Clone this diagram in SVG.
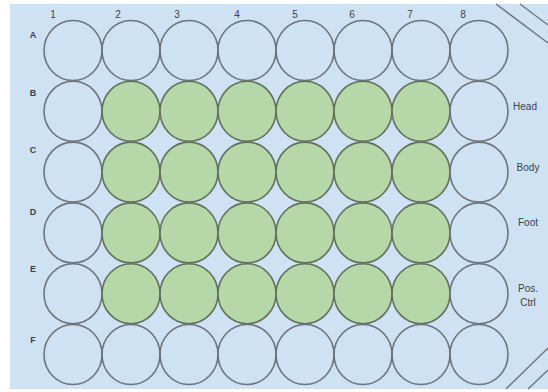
<svg xmlns="http://www.w3.org/2000/svg" width="548" height="392" viewBox="0 0 548 392">
<style>
.well{fill:none;stroke:#6e747c;stroke-width:1.6}
.on{fill:#b6d7a8;stroke:#62705c;stroke-width:1.6}
.lbl{font-family:"Liberation Sans",Arial,sans-serif;font-size:10px;fill:#3c4048;text-anchor:middle}
.rl{font-family:"Liberation Sans",Arial,sans-serif;font-size:9px;font-weight:bold;fill:#3c4048;text-anchor:middle}
.edge{stroke:#6e747c;stroke-width:1.4;fill:none}
</style>
<rect width="548" height="392" fill="#ffffff"/>
<rect x="10" y="4" width="538" height="385" fill="#cfe2f3"/>
<g id="corners">
<line class="edge" x1="496" y1="4" x2="548" y2="43"/>
<line class="edge" x1="520" y1="4" x2="548" y2="25"/>
<line class="edge" x1="506" y1="389" x2="548" y2="348"/>
<line class="edge" x1="528" y1="389" x2="548" y2="370"/>
</g>
<g id="col-labels">
<text class="lbl" x="53" y="18">1</text>
<text class="lbl" x="118" y="18">2</text>
<text class="lbl" x="177" y="18">3</text>
<text class="lbl" x="237" y="18">4</text>
<text class="lbl" x="295" y="18">5</text>
<text class="lbl" x="352" y="18">6</text>
<text class="lbl" x="410" y="18">7</text>
<text class="lbl" x="463" y="18">8</text>
</g>
<g id="row-labels">
<text class="rl" x="33" y="38">A</text>
<text class="rl" x="33" y="96">B</text>
<text class="rl" x="33" y="153">C</text>
<text class="rl" x="33" y="215">D</text>
<text class="rl" x="33" y="272">E</text>
<text class="rl" x="33" y="343">F</text>
</g>
<g id="row-A">
<ellipse class="well" cx="73" cy="50.5" rx="29" ry="30"/>
<ellipse class="well" cx="131" cy="50.5" rx="29" ry="30"/>
<ellipse class="well" cx="189" cy="50.5" rx="29" ry="30"/>
<ellipse class="well" cx="247" cy="50.5" rx="29" ry="30"/>
<ellipse class="well" cx="305" cy="50.5" rx="29" ry="30"/>
<ellipse class="well" cx="363" cy="50.5" rx="29" ry="30"/>
<ellipse class="well" cx="421" cy="50.5" rx="29" ry="30"/>
<ellipse class="well" cx="479" cy="50.5" rx="29" ry="30"/>
</g>
<g id="row-B">
<ellipse class="well" cx="73" cy="111.3" rx="29" ry="30"/>
<ellipse class="on" cx="131" cy="111.3" rx="29" ry="30"/>
<ellipse class="on" cx="189" cy="111.3" rx="29" ry="30"/>
<ellipse class="on" cx="247" cy="111.3" rx="29" ry="30"/>
<ellipse class="on" cx="305" cy="111.3" rx="29" ry="30"/>
<ellipse class="on" cx="363" cy="111.3" rx="29" ry="30"/>
<ellipse class="on" cx="421" cy="111.3" rx="29" ry="30"/>
<ellipse class="well" cx="479" cy="111.3" rx="29" ry="30"/>
<text class="lbl" x="525" y="110">Head</text>
</g>
<g id="row-C">
<ellipse class="well" cx="73" cy="172.1" rx="29" ry="30"/>
<ellipse class="on" cx="131" cy="172.1" rx="29" ry="30"/>
<ellipse class="on" cx="189" cy="172.1" rx="29" ry="30"/>
<ellipse class="on" cx="247" cy="172.1" rx="29" ry="30"/>
<ellipse class="on" cx="305" cy="172.1" rx="29" ry="30"/>
<ellipse class="on" cx="363" cy="172.1" rx="29" ry="30"/>
<ellipse class="on" cx="421" cy="172.1" rx="29" ry="30"/>
<ellipse class="well" cx="479" cy="172.1" rx="29" ry="30"/>
<text class="lbl" x="528" y="171">Body</text>
</g>
<g id="row-D">
<ellipse class="well" cx="73" cy="232.9" rx="29" ry="30"/>
<ellipse class="on" cx="131" cy="232.9" rx="29" ry="30"/>
<ellipse class="on" cx="189" cy="232.9" rx="29" ry="30"/>
<ellipse class="on" cx="247" cy="232.9" rx="29" ry="30"/>
<ellipse class="on" cx="305" cy="232.9" rx="29" ry="30"/>
<ellipse class="on" cx="363" cy="232.9" rx="29" ry="30"/>
<ellipse class="on" cx="421" cy="232.9" rx="29" ry="30"/>
<ellipse class="well" cx="479" cy="232.9" rx="29" ry="30"/>
<text class="lbl" x="528" y="226">Foot</text>
</g>
<g id="row-E">
<ellipse class="well" cx="73" cy="293.7" rx="29" ry="30"/>
<ellipse class="on" cx="131" cy="293.7" rx="29" ry="30"/>
<ellipse class="on" cx="189" cy="293.7" rx="29" ry="30"/>
<ellipse class="on" cx="247" cy="293.7" rx="29" ry="30"/>
<ellipse class="on" cx="305" cy="293.7" rx="29" ry="30"/>
<ellipse class="on" cx="363" cy="293.7" rx="29" ry="30"/>
<ellipse class="on" cx="421" cy="293.7" rx="29" ry="30"/>
<ellipse class="well" cx="479" cy="293.7" rx="29" ry="30"/>
<text class="lbl" x="528" y="292">Pos.</text>
<text class="lbl" x="528" y="306">Ctrl</text>
</g>
<g id="row-F">
<ellipse class="well" cx="73" cy="354.5" rx="29" ry="30"/>
<ellipse class="well" cx="131" cy="354.5" rx="29" ry="30"/>
<ellipse class="well" cx="189" cy="354.5" rx="29" ry="30"/>
<ellipse class="well" cx="247" cy="354.5" rx="29" ry="30"/>
<ellipse class="well" cx="305" cy="354.5" rx="29" ry="30"/>
<ellipse class="well" cx="363" cy="354.5" rx="29" ry="30"/>
<ellipse class="well" cx="421" cy="354.5" rx="29" ry="30"/>
<ellipse class="well" cx="479" cy="354.5" rx="29" ry="30"/>
</g>
</svg>
